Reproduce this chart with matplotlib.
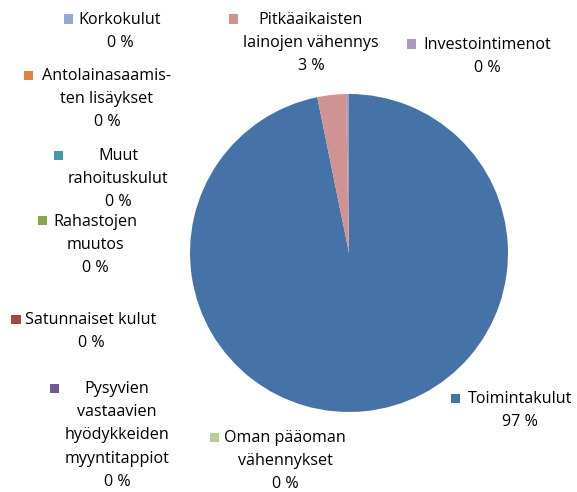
import matplotlib
matplotlib.use("Agg")
import matplotlib.pyplot as plt
from matplotlib.patches import Rectangle

categories = ["Toimintakulut", "Oman pääoman vähennykset",
              "Pysyvien vastaavien hyödykkeiden myyntitappiot",
              "Satunnaiset kulut", "Rahastojen muutos", "Muut rahoituskulut",
              "Antolainasaamisten lisäykset", "Korkokulut",
              "Pitkäaikaisten lainojen vähennys", "Investointimenot"]
values = [96.8, 0.0, 0.0, 0.0, 0.0, 0.0, 0.0, 0.0, 2.9, 0.3]
label_lines = [["Toimintakulut"], ["Oman pääoman", "vähennykset"],
               ["Pysyvien", "vastaavien", "hyödykkeiden", "myyntitappiot"],
               ["Satunnaiset kulut"], ["Rahastojen", "muutos"],
               ["Muut", "rahoituskulut"], ["Antolainasaamis-", "ten lisäykset"],
               ["Korkokulut"], ["Pitkäaikaisten", "lainojen vähennys"],
               ["Investointimenot"]]
colors = ["#4572A7", "#B9CD96", "#71588F", "#AA4643", "#89A54E",
          "#4198AF", "#DB843D", "#93A9CF", "#D19392", "#A99BBD"]

W, H = 577, 492
fig = plt.figure(figsize=(W / 100, H / 100), dpi=100)
fig.patch.set_facecolor("white")

cx, cy, r = 349, 253, 159
ax = fig.add_axes([(cx - r) / W, (H - cy - r) / H, 2 * r / W, 2 * r / H])
ax.pie(values, colors=colors, startangle=90, counterclock=False,
       wedgeprops=dict(linewidth=0))
ax.set_xlim(-1, 1)
ax.set_ylim(-1, 1)
ax.set_aspect("equal")
ax.axis("off")

# label layout: (block center x, first line y, marker x) in pixels
layout = [(520, 399, 456), (285, 438, 215), (117, 389, 54), (91, 320, 16),
          (95, 222, 42), (118, 156, 58), (107, 76, 28), (120, 20, 68),
          (311, 20, 233), (487, 45, 411)]

total = sum(values)
font = dict(family=["Open Sans", "DejaVu Sans"], fontsize=11.6, color="#000000")
for (bx, by, mx), lines, v, c in zip(layout, label_lines, values, colors):
    lines = list(lines) + [f"{round(v / total * 100):.0f} %"]
    for i, t in enumerate(lines):
        fig.text(bx / W, 1 - (by + i * 23.2) / H, t, ha="center", va="center", **font)
    s = 9
    fig.add_artist(Rectangle(((mx - s / 2) / W, 1 - (by - 1 + s / 2) / H), s / W, s / H,
                             transform=fig.transFigure, color=c, lw=0))

fig.savefig("out.png", dpi=100)
